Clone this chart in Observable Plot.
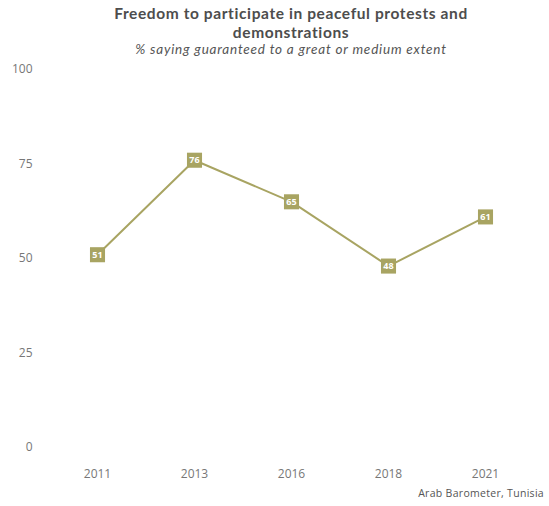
<!DOCTYPE html>
<html>
<head>
<meta charset="utf-8">
<script src="https://cdn.jsdelivr.net/npm/d3@7"></script>
<script src="https://cdn.jsdelivr.net/npm/@observablehq/plot@0.6"></script>
<style>
  html, body { margin: 0; padding: 0; background: #fff; }
  #wrap { position: relative; width: 549px; height: 506px; font-family: "Open Sans", Lato, sans-serif; }
  #title { position: absolute; top: 4px; left: 0; width: 582px; text-align: center; font-family: Lato, sans-serif; font-weight: 700; font-size: 15.5px; line-height: 18.6px; letter-spacing: 0.6px; color: #4d4d4d; }
  #subtitle { position: absolute; top: 41px; left: 0; width: 582px; text-align: center; font-family: Lato, sans-serif; font-style: italic; font-size: 13.5px; line-height: 16.2px; letter-spacing: 0.8px; color: #555; }
  #chart { position: absolute; top: 57px; left: 0; }
  #caption { position: absolute; top: 486px; right: 5px; font-size: 10.5px; letter-spacing: 0.3px; color: #555; }
</style>
</head>
<body>
<div id="wrap">
  <div id="title">Freedom to participate in peaceful protests and<br>demonstrations</div>
  <div id="subtitle">% saying guaranteed to a great or medium extent</div>
  <div id="chart"></div>
  <div id="caption">Arab Barometer, Tunisia</div>
</div>
<script>
const years = ["2011", "2013", "2016", "2018", "2021"];
const values = [51, 76, 65, 48, 61];
const yTicks = [0, 25, 50, 75, 100];

const data = years.map((y, i) => ({year: y, value: values[i]}));
const color = "#a8a462";

const plot = Plot.plot({
  width: 549,
  height: 428,
  marginLeft: 95,
  marginRight: 63,
  marginTop: 12,
  marginBottom: 38,
  style: {fontFamily: "'Open Sans', Lato, sans-serif", fontSize: "12px", color: "#666", background: "transparent"},
  x: {type: "point", domain: years, padding: 0, label: null},
  y: {domain: [0, 100], label: null},
  marks: [
    Plot.axisY({ticks: yTicks, tickSize: 0, tickPadding: 0, dx: -63, textAnchor: "end", label: null, fill: "#777"}),
    Plot.axisX({tickSize: 0, tickPadding: 22, label: null, fill: "#777"}),
    Plot.line(data, {x: "year", y: "value", stroke: color, strokeWidth: 2}),
    Plot.dot(data, {x: "year", y: "value", symbol: "square", r: 8.5, fill: color, stroke: "none"}),
    Plot.text(data, {x: "year", y: "value", text: d => String(d.value), fill: "white", fontWeight: "bold", fontSize: 9})
  ]
});
document.getElementById("chart").appendChild(plot);
</script>
</body>
</html>
